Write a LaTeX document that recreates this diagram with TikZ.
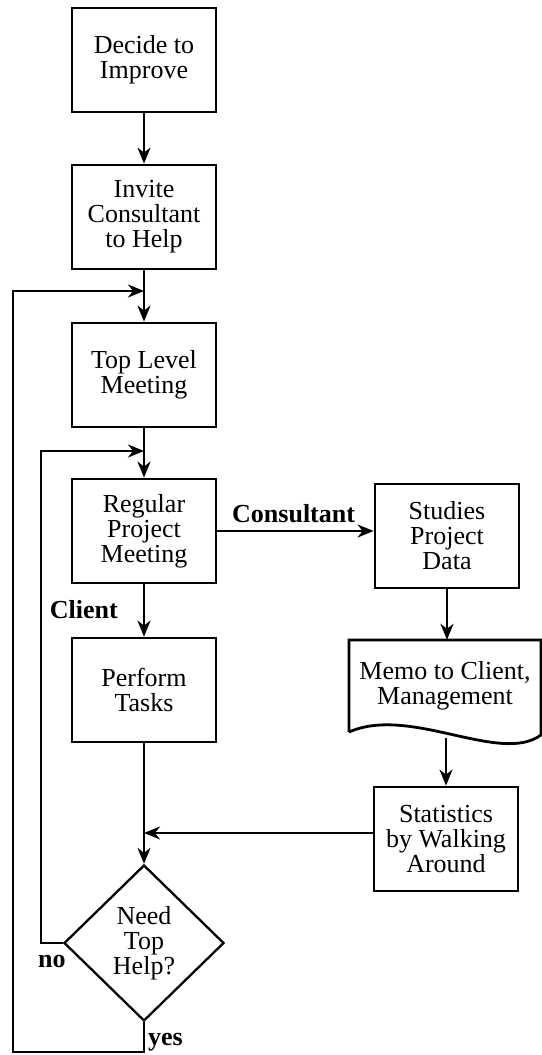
\documentclass[tikz,border=0pt]{standalone}
\usepackage{fontspec}
\setmainfont{Liberation Serif}
\usetikzlibrary{arrows.meta,shapes.geometric}

\begin{document}
\begin{tikzpicture}[x=1pt, y=-1pt,
	every node/.style={font=\fontsize{26}{25}\selectfont},
	box/.style={draw, line width=2.8pt, minimum width=144pt, minimum height=104pt, inner sep=0pt, align=center},
	flow/.style={line width=2.3pt, -{Stealth[length=16pt,width=13pt,inset=5pt]}},
	lbl/.style={font=\fontsize{26}{25}\selectfont\bfseries, inner sep=0pt}]
	\useasboundingbox (0,0) rectangle (541,1055);
	\node[box] (decide) at (144, 60) {Decide to\\Improve};
	\node[box] (invite) at (144, 217) {Invite\\Consultant\\to Help};
	\node[box] (top) at (144, 375) {Top Level\\Meeting};
	\node[box] (regular) at (144, 531) {Regular\\Project\\Meeting};
	\node[box] (perform) at (144, 690) {Perform\\Tasks};
	\node[box] (studies) at (447, 536) {Studies\\Project\\Data};
	\node[minimum width=192pt, minimum height=92pt, inner sep=0pt, align=center] (memo) at (445, 686) {Memo to Client,\\Management};
	\draw[line width=2.8pt] (349,732) -- (349,640) -- (541,640) -- (541,735) .. controls (500,765) and (410,705) .. (349,732);
	\node[box] (stats) at (446, 839) {Statistics\\by Walking\\Around};
	\node[draw, diamond, line width=2.3pt, minimum width=160pt, minimum height=156pt, inner sep=0pt, align=center] (need) at (144, 943) {Need\\Top\\Help?};
	\node[lbl, anchor=base west] (cons) at (232, 522) {Consultant};
	\node[lbl, anchor=base east] (client) at (118, 618) {Client};
	\node[lbl, anchor=base west] (no) at (38, 967) {no};
	\node[lbl, anchor=base west] (yes) at (148, 1045) {yes};
	\coordinate (outer) at (144, 291);
	\coordinate (inner) at (144, 451);
	\coordinate (merge) at (144, 833);
	\coordinate (wave) at (446, 738);
	\coordinate (back) at (13, 1052);
	\foreach \a/\b in {decide/invite, invite/top, top/regular, regular/perform, perform/need}
		\draw[flow] (\a) -- (\b);
	\draw[flow] (regular) -- (regular -| studies.west);
	\draw[flow] (studies) -- (studies |- memo.north);
	\draw[flow] (wave) -- (stats);
	\draw[flow] (stats.west |- merge) -- (merge);
	\draw[flow] (need.west) -- ++(-22,0) |- (inner);
	\draw[flow] (need.south) |- (back) |- (outer);
\end{tikzpicture}
\end{document}
